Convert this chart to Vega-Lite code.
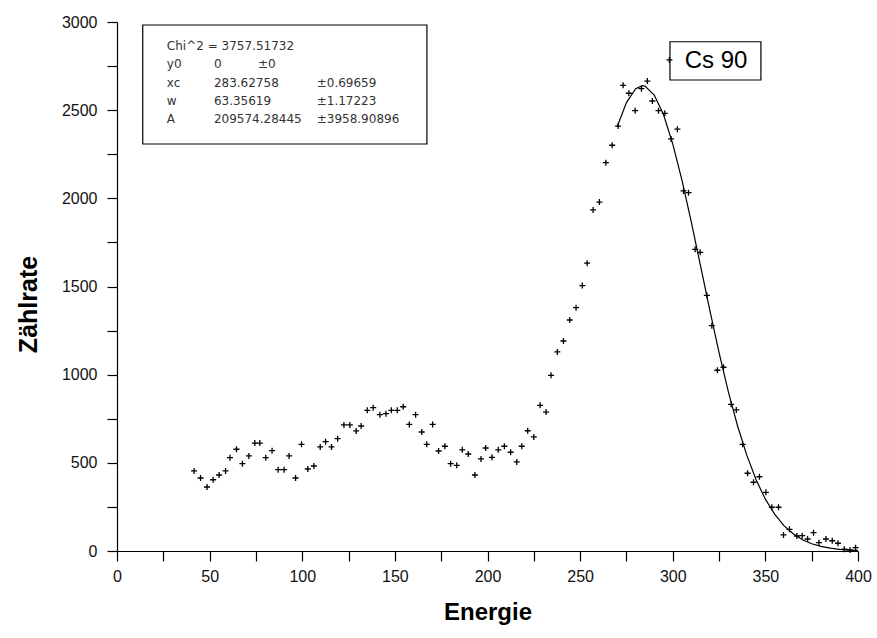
{
  "$schema": "https://vega.github.io/schema/vega-lite/v6.json",
  "width": 741,
  "height": 529,
  "autosize": {"type": "none"},
  "padding": {"left": 117, "top": 22, "right": 19, "bottom": 87},
  "config": {"view": {"stroke": null}, "font": "Liberation Sans"},
  "datasets": {
    "pts": [
      {"E": 41.6, "N": 454}, {"E": 45.1, "N": 414}, {"E": 48.6, "N": 363}, {"E": 51.9, "N": 404},
      {"E": 55.1, "N": 431}, {"E": 58.6, "N": 454}, {"E": 61.0, "N": 529}, {"E": 64.5, "N": 577},
      {"E": 67.7, "N": 495}, {"E": 71.2, "N": 539}, {"E": 74.4, "N": 612}, {"E": 77.1, "N": 612},
      {"E": 80.3, "N": 529}, {"E": 83.7, "N": 569}, {"E": 87.0, "N": 461}, {"E": 90.2, "N": 461},
      {"E": 92.9, "N": 539}, {"E": 96.4, "N": 414}, {"E": 99.6, "N": 605}, {"E": 103.0, "N": 465},
      {"E": 106.3, "N": 482}, {"E": 109.7, "N": 590}, {"E": 112.6, "N": 620}, {"E": 115.8, "N": 590},
      {"E": 119.1, "N": 637}, {"E": 122.5, "N": 715}, {"E": 125.7, "N": 715}, {"E": 129.1, "N": 681},
      {"E": 131.8, "N": 709}, {"E": 135.1, "N": 798}, {"E": 138.3, "N": 813}, {"E": 141.9, "N": 773},
      {"E": 145.2, "N": 779}, {"E": 148.1, "N": 798}, {"E": 151.3, "N": 798}, {"E": 154.5, "N": 818},
      {"E": 157.8, "N": 718}, {"E": 161.2, "N": 773}, {"E": 164.5, "N": 675}, {"E": 167.2, "N": 605},
      {"E": 170.4, "N": 718}, {"E": 173.6, "N": 567}, {"E": 177.0, "N": 594}, {"E": 180.1, "N": 495},
      {"E": 183.4, "N": 486}, {"E": 186.4, "N": 574}, {"E": 189.6, "N": 550}, {"E": 193.2, "N": 431},
      {"E": 196.5, "N": 522}, {"E": 199.0, "N": 584}, {"E": 202.4, "N": 531}, {"E": 205.8, "N": 574},
      {"E": 209.1, "N": 594}, {"E": 212.5, "N": 560}, {"E": 215.8, "N": 505}, {"E": 218.5, "N": 594},
      {"E": 221.7, "N": 682}, {"E": 225.0, "N": 647}, {"E": 228.4, "N": 826}, {"E": 231.6, "N": 788},
      {"E": 234.3, "N": 996}, {"E": 237.7, "N": 1129}, {"E": 241.0, "N": 1191}, {"E": 244.4, "N": 1310},
      {"E": 247.8, "N": 1380}, {"E": 251.2, "N": 1505}, {"E": 253.8, "N": 1632}, {"E": 257.0, "N": 1934},
      {"E": 260.4, "N": 1979}, {"E": 263.9, "N": 2202}, {"E": 267.3, "N": 2301}, {"E": 270.5, "N": 2410},
      {"E": 273.2, "N": 2641}, {"E": 276.3, "N": 2596}, {"E": 279.7, "N": 2497}, {"E": 283.1, "N": 2622},
      {"E": 286.3, "N": 2665}, {"E": 289.0, "N": 2552}, {"E": 292.3, "N": 2497}, {"E": 295.7, "N": 2482},
      {"E": 299.1, "N": 2337}, {"E": 302.5, "N": 2392}, {"E": 305.8, "N": 2042}, {"E": 308.5, "N": 2032},
      {"E": 312.1, "N": 1711}, {"E": 314.8, "N": 1694}, {"E": 318.4, "N": 1450}, {"E": 321.1, "N": 1278},
      {"E": 324.1, "N": 1025}, {"E": 327.4, "N": 1042}, {"E": 331.5, "N": 832}, {"E": 334.3, "N": 800},
      {"E": 337.7, "N": 605}, {"E": 340.4, "N": 441}, {"E": 343.6, "N": 390}, {"E": 346.8, "N": 421},
      {"E": 350.3, "N": 333}, {"E": 353.5, "N": 248}, {"E": 357.1, "N": 248}, {"E": 359.8, "N": 91},
      {"E": 363.0, "N": 123}, {"E": 367.0, "N": 85}, {"E": 369.9, "N": 87}, {"E": 372.8, "N": 68},
      {"E": 376.0, "N": 104}, {"E": 378.9, "N": 47}, {"E": 382.7, "N": 68}, {"E": 386.1, "N": 58},
      {"E": 389.2, "N": 44}, {"E": 392.6, "N": 10}, {"E": 395.7, "N": 6}, {"E": 398.7, "N": 19}
    ],
    "fit": [
      {"E": 270, "N": 2406}, {"E": 275, "N": 2543}, {"E": 280, "N": 2622}, {"E": 283.6, "N": 2639},
      {"E": 285, "N": 2637}, {"E": 290, "N": 2586}, {"E": 295, "N": 2475}, {"E": 300, "N": 2309},
      {"E": 305, "N": 2102}, {"E": 310, "N": 1866}, {"E": 315, "N": 1617}, {"E": 320, "N": 1366},
      {"E": 325, "N": 1125}, {"E": 330, "N": 904}, {"E": 335, "N": 709}, {"E": 340, "N": 542},
      {"E": 345, "N": 404}, {"E": 350, "N": 294}, {"E": 355, "N": 209}, {"E": 360, "N": 144},
      {"E": 365, "N": 98}, {"E": 370, "N": 64}, {"E": 375, "N": 41}, {"E": 380, "N": 26},
      {"E": 385, "N": 16}, {"E": 390, "N": 9}, {"E": 395, "N": 5.5}, {"E": 400, "N": 3}
    ],
    "boxes": [
      {"E": 13.9, "E2": 167.3, "N": 2983, "N2": 2308},
      {"E": 298.5, "E2": 347.6, "N": 2888, "N2": 2671}
    ],
    "params": [
      {"E": 26.9, "N": 2864, "t": "Chi^2 = 3757.51732"},
      {"E": 26.9, "N": 2762, "t": "y0"},
      {"E": 52.3, "N": 2762, "t": "0"},
      {"E": 76.1, "N": 2762, "t": "±0"},
      {"E": 26.9, "N": 2654, "t": "xc"},
      {"E": 52.3, "N": 2654, "t": "283.62758"},
      {"E": 107.8, "N": 2654, "t": "±0.69659"},
      {"E": 26.9, "N": 2552, "t": "w"},
      {"E": 52.3, "N": 2552, "t": "63.35619"},
      {"E": 107.8, "N": 2552, "t": "±1.17223"},
      {"E": 26.9, "N": 2450, "t": "A"},
      {"E": 52.3, "N": 2450, "t": "209574.28445"},
      {"E": 107.8, "N": 2450, "t": "±3958.90896"}
    ],
    "legend": [
      {"E": 323.4, "N": 2779, "t": "Cs 90"}
    ],
    "legsym": [
      {"E": 298.2, "N": 2785}
    ]
  },
  "layer": [
    {
      "data": {"name": "pts"},
      "mark": {"type": "point", "shape": "M-1,0L1,0M0,-1L0,1", "filled": false, "stroke": "black", "strokeWidth": 1.3, "size": 36, "opacity": 1},
      "encoding": {
        "x": {
          "field": "E", "type": "quantitative",
          "scale": {"domain": [0, 400], "nice": false, "zero": false},
          "axis": {
            "title": "Energie",
            "values": [0, 25, 50, 75, 100, 125, 150, 175, 200, 225, 250, 275, 300, 325, 350, 375, 400],
            "labelExpr": "datum.value % 50 === 0 ? datum.label : ''",
            "labelOverlap": false, "labelFlush": false,
            "grid": false,
            "domainColor": "black", "domainWidth": 1.2,
            "tickColor": "black", "tickWidth": 1.2, "tickSize": 10,
            "labelFontSize": 16, "labelColor": "#111", "labelPadding": 7, "labelFont": "Liberation Sans",
            "titleFontSize": 24, "titleFontWeight": "bold", "titleColor": "black", "titlePadding": 16, "titleFont": "Liberation Sans",
            "encode": {"ticks": {"update": {"y2": {"signal": "datum.value % 50 === 0 ? 10 : 6"}}}}
          }
        },
        "y": {
          "field": "N", "type": "quantitative",
          "scale": {"domain": [0, 3000], "nice": false, "zero": false},
          "axis": {
            "title": "Zählrate",
            "values": [0, 250, 500, 750, 1000, 1250, 1500, 1750, 2000, 2250, 2500, 2750, 3000],
            "labelExpr": "datum.value % 500 === 0 ? datum.label : ''",
            "labelOverlap": false, "labelFlush": false,
            "format": "d",
            "grid": false,
            "domainColor": "black", "domainWidth": 1.2,
            "tickColor": "black", "tickWidth": 1.2, "tickSize": 10,
            "labelFontSize": 16, "labelColor": "#111", "labelPadding": 10, "labelFont": "Liberation Sans",
            "titleFontSize": 25, "titleFontWeight": "bold", "titleColor": "black", "titlePadding": 20, "titleFont": "Liberation Sans",
            "titleY": 282,
            "encode": {"ticks": {"update": {"x2": {"signal": "datum.value % 500 === 0 ? -10 : -7"}}}}
          }
        }
      }
    },
    {
      "data": {"name": "fit"},
      "mark": {"type": "line", "color": "black", "strokeWidth": 1.2},
      "encoding": {
        "x": {"field": "E", "type": "quantitative"},
        "y": {"field": "N", "type": "quantitative"}
      }
    },
    {
      "data": {"name": "boxes"},
      "mark": {"type": "rect", "fill": "white", "stroke": "black", "strokeWidth": 1.2},
      "encoding": {
        "x": {"field": "E", "type": "quantitative"},
        "x2": {"field": "E2"},
        "y": {"field": "N", "type": "quantitative"},
        "y2": {"field": "N2"}
      }
    },
    {
      "data": {"name": "params"},
      "mark": {"type": "text", "align": "left", "baseline": "middle", "font": "DejaVu Sans", "fontSize": 12, "color": "#333"},
      "encoding": {
        "x": {"field": "E", "type": "quantitative"},
        "y": {"field": "N", "type": "quantitative"},
        "text": {"field": "t"}
      }
    },
    {
      "data": {"name": "legend"},
      "mark": {"type": "text", "align": "center", "baseline": "middle", "font": "Liberation Sans", "fontSize": 24, "color": "black"},
      "encoding": {
        "x": {"field": "E", "type": "quantitative"},
        "y": {"field": "N", "type": "quantitative"},
        "text": {"field": "t"}
      }
    },
    {
      "data": {"name": "legsym"},
      "mark": {"type": "point", "shape": "M-1,0L1,0M0,-1L0,1", "filled": false, "stroke": "black", "strokeWidth": 1.3, "size": 36, "opacity": 1},
      "encoding": {
        "x": {"field": "E", "type": "quantitative"},
        "y": {"field": "N", "type": "quantitative"}
      }
    }
  ]
}
